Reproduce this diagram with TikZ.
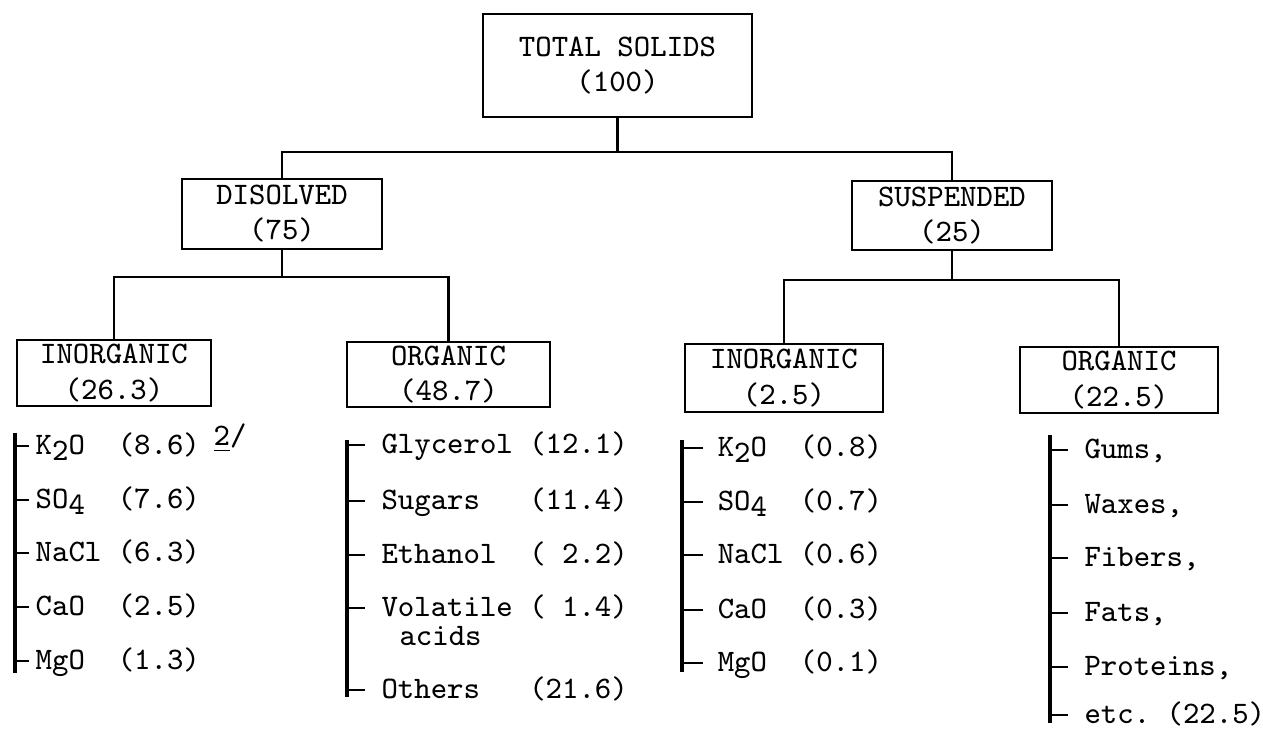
\documentclass[tikz,border=0pt]{standalone}
\usepackage{fontspec}
\newcommand{\dn}[1]{\raisebox{-0.45ex}{#1}}

\begin{document}
\begin{tikzpicture}[box/.style = {rectangle, draw, line width=0.8pt, align=center, inner sep=0pt, font=\fontsize{8.9}{10}\selectfont\ttfamily},
item/.style = {anchor=west, inner xsep=4.5pt, inner ysep=0pt, text height=6pt, text depth=1pt, font=\fontsize{8.9}{10}\selectfont\ttfamily},
link/.style = {line width=0.6pt},
bracket/.style = {line width=0.9pt},
tick/.style = {line width=0.6pt}]

\useasboundingbox (0,0) rectangle (12.63,-7.37);

% boxes
\node[box, minimum width=2.69cm, minimum height=1.03cm] (total) at (6.175,-0.655) {TOTAL SOLIDS\\(100)};

\node[box, minimum width=2.00cm, minimum height=0.70cm] (disolved) at (2.82,-2.14) {DISOLVED\\(75)};
\node[box, minimum width=2.00cm, minimum height=0.69cm] (suspended) at (9.52,-2.155) {SUSPENDED\\(25)};

\node[box, minimum width=1.94cm, minimum height=0.66cm] (inorgA) at (1.14,-3.73) {INORGANIC\\(26.3)};
\node[box, minimum width=2.03cm, minimum height=0.65cm] (orgA) at (4.485,-3.745) {ORGANIC\\(48.7)};
\node[box, minimum width=1.98cm, minimum height=0.68cm] (inorgB) at (7.84,-3.78) {INORGANIC\\(2.5)};
\node[box, minimum width=1.98cm, minimum height=0.66cm] (orgB) at (11.19,-3.80) {ORGANIC\\(22.5)};

% junctions
\coordinate (j0) at (6.175,-1.52);
\coordinate (j1) at (2.82,-2.77);
\coordinate (j2) at (9.52,-2.80);

\draw[link] (total) -- (j0);
\draw[link] (disolved) |- (j0) -| (suspended);
\draw[link] (disolved) -- (j1);
\draw[link] (inorgA) |- (j1) -| (orgA);
\draw[link] (suspended) -- (j2);
\draw[link] (inorgB) |- (j2) -| (orgB);

% dissolved inorganic
\coordinate (atop) at (0.15,-4.33);
\coordinate (abot) at (0.15,-6.73);
\node[item, inner xsep=1.7pt] (a1) at (0.29,-4.46) {K\dn{2}O~~(8.6)};
\node[item, inner xsep=1.7pt] (a2) at (0.29,-5.00) {SO\dn{4}~~(7.6)};
\node[item, inner xsep=1.7pt] (a3) at (0.29,-5.53) {NaCl~(6.3)};
\node[item, inner xsep=1.7pt] (a4) at (0.29,-6.07) {CaO~~(2.5)};
\node[item, inner xsep=1.7pt] (a5) at (0.29,-6.61) {MgO~~(1.3)};
\node[anchor=west, inner sep=0pt, font=\fontsize{8.9}{10}\selectfont\ttfamily] (note) at (2.13,-4.38) {\underline{2}/};

\draw[bracket] (atop) -- (abot);
\draw[tick] (a1.west -| atop) -- (a1.west) (a2.west -| atop) -- (a2.west) (a3.west -| atop) -- (a3.west)
  (a4.west -| atop) -- (a4.west) (a5.west -| atop) -- (a5.west);

% dissolved organic
\coordinate (btop) at (3.47,-4.40);
\coordinate (bbot) at (3.47,-6.97);
\node[item] (b1) at (3.65,-4.45) {Glycerol~(12.1)};
\node[item] (b2) at (3.65,-5.01) {Sugars~~~(11.4)};
\node[item] (b3) at (3.65,-5.55) {Ethanol~~(~2.2)};
\node[item] (b4) at (3.65,-6.08) {Volatile~(~1.4)};
\node[item] (b5) at (3.83,-6.37) {acids};
\node[item] (b6) at (3.65,-6.90) {Others~~~(21.6)};

\draw[bracket] (btop) -- (bbot);
\draw[tick] (b1.west -| btop) -- (b1.west) (b2.west -| btop) -- (b2.west) (b3.west -| btop) -- (b3.west)
  (b4.west -| btop) -- (b4.west) (b6.west -| btop) -- (b6.west);

% suspended inorganic
\coordinate (ctop) at (6.82,-4.40);
\coordinate (cbot) at (6.82,-6.72);
\node[item, inner xsep=4pt] (c1) at (7.03,-4.48) {K\dn{2}O~~(0.8)};
\node[item, inner xsep=4pt] (c2) at (7.03,-5.02) {SO\dn{4}~~(0.7)};
\node[item, inner xsep=4pt] (c3) at (7.03,-5.55) {NaCl~(0.6)};
\node[item, inner xsep=4pt] (c4) at (7.03,-6.10) {CaO~~(0.3)};
\node[item, inner xsep=4pt] (c5) at (7.03,-6.63) {MgO~~(0.1)};

\draw[bracket] (ctop) -- (cbot);
\draw[tick] (c1.west -| ctop) -- (c1.west) (c2.west -| ctop) -- (c2.west) (c3.west -| ctop) -- (c3.west)
  (c4.west -| ctop) -- (c4.west) (c5.west -| ctop) -- (c5.west);

% suspended organic
\coordinate (dtop) at (10.50,-4.35);
\coordinate (dbot) at (10.50,-7.23);
\node[item] (d1) at (10.68,-4.50) {Gums,};
\node[item] (d2) at (10.68,-5.05) {Waxes,};
\node[item] (d3) at (10.68,-5.58) {Fibers,};
\node[item] (d4) at (10.68,-6.13) {Fats,};
\node[item] (d5) at (10.68,-6.67) {Proteins,};
\node[item] (d6) at (10.68,-7.15) {etc.~(22.5)};

\draw[bracket] (dtop) -- (dbot);
\draw[tick] (d1.west -| dtop) -- (d1.west) (d2.west -| dtop) -- (d2.west) (d3.west -| dtop) -- (d3.west)
  (d4.west -| dtop) -- (d4.west) (d5.west -| dtop) -- (d5.west) (d6.west -| dtop) -- (d6.west);

\end{tikzpicture}
\end{document}
